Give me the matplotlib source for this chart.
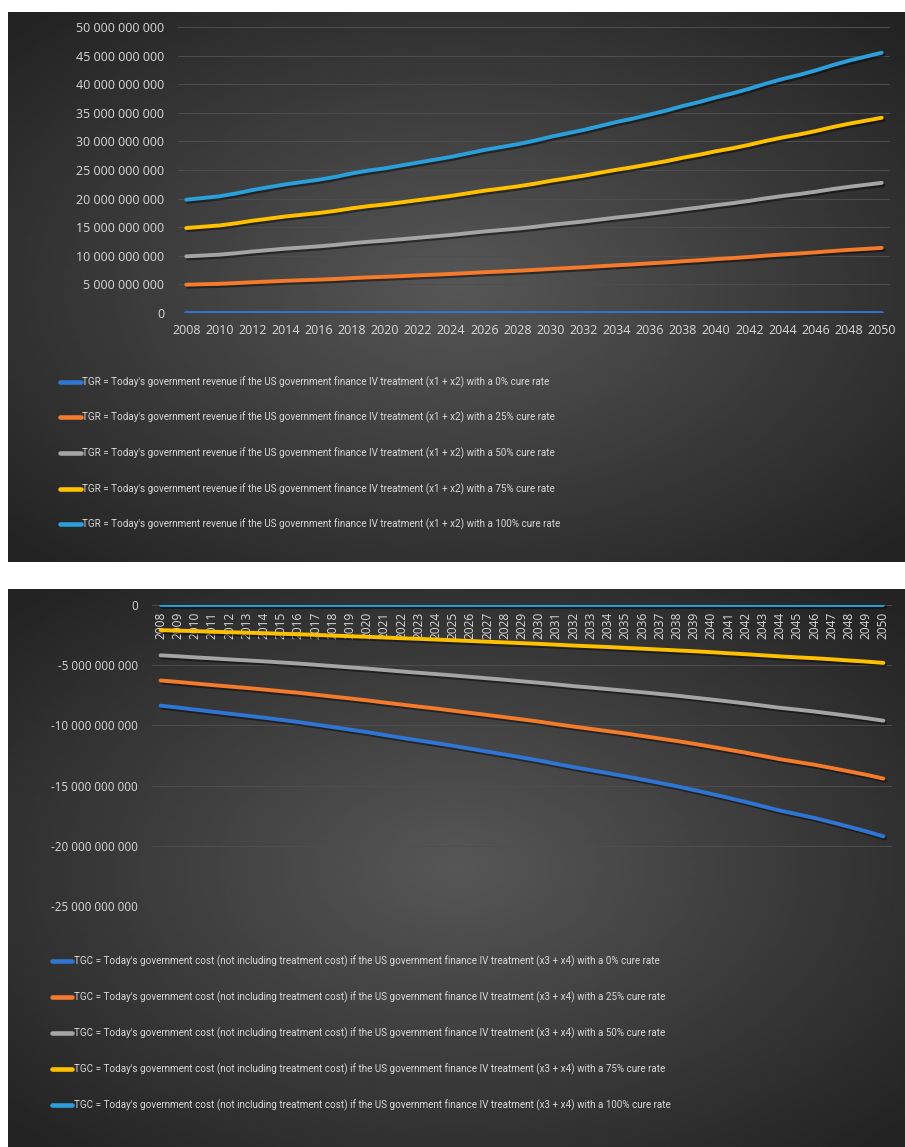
"""Today's government revenue / cost of IV treatment by cure rate, 2008-2050."""

import numpy as np
import matplotlib

matplotlib.use("Agg")
import matplotlib.pyplot as plt
from matplotlib import patheffects as pe
from matplotlib.font_manager import FontProperties
from matplotlib.ticker import FuncFormatter
from matplotlib.transforms import offset_copy

years = list(range(2008, 2051))
cure_rates = ["0%", "25%", "50%", "75%", "100%"]

# revenue, billions USD (x1 + x2)
tgr_0 = [0.0] * 43
tgr_25 = [4.95, 5.03, 5.10, 5.23, 5.38, 5.50, 5.63, 5.73, 5.83, 5.95, 6.10, 6.23, 6.33, 6.45,
          6.58, 6.70, 6.83, 6.98, 7.13, 7.25, 7.38, 7.53, 7.70, 7.85, 8.00, 8.18, 8.35, 8.50,
          8.68, 8.85, 9.05, 9.23, 9.43, 9.60, 9.80, 10.03, 10.23, 10.40, 10.60, 10.83, 11.03,
          11.20, 11.38]
tgr_50 = [9.90, 10.05, 10.20, 10.45, 10.75, 11.00, 11.25, 11.45, 11.65, 11.90, 12.20, 12.45,
          12.65, 12.90, 13.15, 13.40, 13.65, 13.95, 14.25, 14.50, 14.75, 15.05, 15.40, 15.70,
          16.00, 16.35, 16.70, 17.00, 17.35, 17.70, 18.10, 18.45, 18.85, 19.20, 19.60, 20.05,
          20.45, 20.80, 21.20, 21.65, 22.05, 22.40, 22.75]
tgr_75 = [14.85, 15.08, 15.30, 15.68, 16.13, 16.50, 16.88, 17.18, 17.48, 17.85, 18.30, 18.68,
          18.98, 19.35, 19.73, 20.10, 20.48, 20.93, 21.38, 21.75, 22.13, 22.58, 23.10, 23.55,
          24.00, 24.53, 25.05, 25.50, 26.03, 26.55, 27.15, 27.68, 28.28, 28.80, 29.40, 30.08,
          30.68, 31.20, 31.80, 32.48, 33.08, 33.60, 34.13]
tgr_100 = [19.8, 20.1, 20.4, 20.9, 21.5, 22.0, 22.5, 22.9, 23.3, 23.8, 24.4, 24.9, 25.3, 25.8,
           26.3, 26.8, 27.3, 27.9, 28.5, 29.0, 29.5, 30.1, 30.8, 31.4, 32.0, 32.7, 33.4, 34.0,
           34.7, 35.4, 36.2, 36.9, 37.7, 38.4, 39.2, 40.1, 40.9, 41.6, 42.4, 43.3, 44.1, 44.8,
           45.5]

# cost, billions USD (x3 + x4)
tgc_0 = [-8.36, -8.52, -8.69, -8.86, -9.03, -9.19, -9.36, -9.54, -9.72, -9.93, -10.14, -10.35,
         -10.56, -10.80, -11.03, -11.25, -11.47, -11.70, -11.94, -12.18, -12.42, -12.67, -12.92,
         -13.20, -13.47, -13.72, -13.97, -14.23, -14.50, -14.78, -15.06, -15.37, -15.69, -16.02,
         -16.36, -16.72, -17.08, -17.38, -17.69, -18.05, -18.42, -18.80, -19.22]
tgc_25 = [-6.27, -6.39, -6.52, -6.65, -6.77, -6.89, -7.02, -7.16, -7.29, -7.45, -7.61, -7.76,
          -7.92, -8.10, -8.27, -8.44, -8.60, -8.78, -8.96, -9.14, -9.32, -9.50, -9.69, -9.90,
          -10.10, -10.29, -10.48, -10.67, -10.88, -11.09, -11.30, -11.53, -11.77, -12.02, -12.27,
          -12.54, -12.81, -13.04, -13.27, -13.54, -13.82, -14.10, -14.42]
tgc_50 = [-4.18, -4.26, -4.35, -4.43, -4.52, -4.60, -4.68, -4.77, -4.86, -4.97, -5.07, -5.18,
          -5.28, -5.40, -5.52, -5.63, -5.74, -5.85, -5.97, -6.09, -6.21, -6.34, -6.46, -6.60,
          -6.74, -6.86, -6.99, -7.12, -7.25, -7.39, -7.53, -7.69, -7.85, -8.01, -8.18, -8.36,
          -8.54, -8.69, -8.85, -9.03, -9.21, -9.40, -9.61]
tgc_75 = [-2.09, -2.13, -2.17, -2.22, -2.26, -2.30, -2.34, -2.39, -2.43, -2.48, -2.54, -2.59,
          -2.64, -2.70, -2.76, -2.81, -2.87, -2.93, -2.99, -3.05, -3.11, -3.17, -3.23, -3.30,
          -3.37, -3.43, -3.49, -3.56, -3.63, -3.70, -3.77, -3.84, -3.92, -4.01, -4.09, -4.18,
          -4.27, -4.35, -4.42, -4.51, -4.61, -4.70, -4.81]
tgc_100 = [0.0] * 43

colors = ["#2f75d4", "#f47a2c", "#a5a5a5", "#ffc000", "#2a9fdb"]

tgr_label = ("TGR = Today's government revenue if the US government finance IV treatment "
             "(x1 + x2) with a {} cure rate")
tgc_label = ("TGC = Today's government cost (not including treatment cost) if the US government "
             "finance IV treatment (x3 + x4) with a {} cure rate")

W, H = 905, 1147
TEXT = "#d9d9d9"
TICKFONT = "Open Sans"
LEGENDFONT = "Roboto"


def rect(x0, y0, x1, y1):
    return [x0 / W, 1 - y1 / H, (x1 - x0) / W, (y1 - y0) / H]


def gradient_panel(fig, box):
    ax = fig.add_axes(rect(*box), zorder=0)
    gx, gy = np.meshgrid(np.linspace(-1, 1, 200), np.linspace(-1, 1, 200))
    r = np.clip(np.sqrt(gx ** 2 + gy ** 2) / 1.35, 0, 1)
    shade = 0.34 - 0.20 * r
    ax.imshow(shade, cmap="gray", vmin=0, vmax=1, aspect="auto", extent=[0, 1, 0, 1])
    ax.set_axis_off()
    return ax


def fmt_space(v, _pos):
    s = f"{abs(v):,.0f}".replace(",", " ")
    return "-" + s if v < 0 else s


def style_axes(ax):
    ax.set_facecolor("none")
    for side in ax.spines.values():
        side.set_visible(False)
    ax.grid(axis="y", color="#4e4e4e", linewidth=0.7)
    ax.set_axisbelow(True)
    ax.yaxis.set_major_formatter(FuncFormatter(fmt_space))
    ax.set_xlim(years[0] - 0.5, years[-1] + 0.5)


def build_legend(fig, ax, anchor, size, spacing, hlen_px):
    px = size * 100 / 72
    leg = ax.legend(loc="upper left", bbox_to_anchor=(anchor[0] / W, 1 - anchor[1] / H),
                    bbox_transform=fig.transFigure, frameon=False,
                    prop=FontProperties(family=LEGENDFONT, size=size),
                    labelcolor=TEXT, handlelength=hlen_px / px, handletextpad=1.5 / px,
                    labelspacing=spacing, borderpad=0, borderaxespad=0)
    for h in leg.get_lines():
        h.set_linewidth(3.3)
        h.set_solid_capstyle("round")
        h.set_path_effects([])
    return leg


def fit_legend(fig, ax, left, first_y, gap, width, hlen_px):
    """Size the legend so its longest label and row pitch come out at the given pixels."""
    size, spacing = 8.0, 2.5
    anchor = (left, first_y - 6)
    for _ in range(4):
        leg = build_legend(fig, ax, anchor, size, spacing, hlen_px)
        fig.canvas.draw()
        rend = fig.canvas.get_renderer()
        boxes = [t.get_window_extent(rend) for t in leg.get_texts()]
        centers = [H - (b.y0 + b.y1) / 2 for b in boxes]
        pitch = (centers[-1] - centers[0]) / (len(boxes) - 1)
        spacing += (gap - pitch) / (size * 100 / 72)
        anchor = (anchor[0], anchor[1] + first_y - centers[0])
        size *= width / max(b.width for b in boxes)
        leg.remove()
    return build_legend(fig, ax, anchor, size, spacing, hlen_px)


shadow = [pe.SimpleLineShadow(offset=(1.2, -1.5), alpha=0.45, shadow_color="black"), pe.Normal()]

fig = plt.figure(figsize=(W / 100, H / 100), dpi=100)
fig.patch.set_facecolor("white")

# ---- top: revenue ----
gradient_panel(fig, (8, 11.5, 905, 562.5))
ax1 = fig.add_axes(rect(178, 27, 890, 313), zorder=1)
style_axes(ax1)
top_series = [tgr_0, tgr_25, tgr_50, tgr_75, tgr_100]
for vals, c, rate in zip(top_series, colors, cure_rates):
    ax1.plot(years, np.array(vals) * 1e9, color=c, lw=2.8, solid_capstyle="round",
             path_effects=shadow, label=tgr_label.format(rate))
ax1.set_ylim(0, 50e9)
ax1.set_yticks(np.arange(0, 50e9 + 1, 5e9))
ax1.set_xticks(years[::2])
ax1.set_xticklabels([str(y) for y in years[::2]])
ax1.tick_params(length=0, colors=TEXT, labelsize=9)
ax1.tick_params(axis="y", pad=10)
ax1.tick_params(axis="x", pad=8)
for lab in ax1.get_xticklabels() + ax1.get_yticklabels():
    lab.set_fontfamily(TICKFONT)

# ---- bottom: cost ----
gradient_panel(fig, (8, 589, 905, 1147))
ax2 = fig.add_axes(rect(152, 605, 892, 906), zorder=1)
style_axes(ax2)
bottom_series = [tgc_0, tgc_25, tgc_50, tgc_75, tgc_100]
for vals, c, rate in zip(bottom_series, colors, cure_rates):
    ax2.plot(years, np.array(vals) * 1e9, color=c, lw=2.8, solid_capstyle="round",
             path_effects=shadow, label=tgc_label.format(rate))
ax2.set_ylim(-25e9, 0)
ax2.set_yticks(np.arange(-25e9, 1, 5e9))
ax2.set_xticks([])
ax2.tick_params(length=0, colors=TEXT, labelsize=8.4)
ax2.tick_params(axis="y", pad=10)
for lab in ax2.get_yticklabels():
    lab.set_fontfamily(TICKFONT)

below_axis = offset_copy(ax2.transData, fig=fig, x=0, y=-7, units="dots")
for yr in years:
    ax2.text(yr, 0, str(yr), rotation=90, ha="center", va="top", transform=below_axis,
             color=TEXT, fontsize=8.6, fontfamily=TICKFONT, zorder=0.5)

# the original legend face is condensed; a regular face is set a little wider here
fit_legend(fig, ax1, left=60, first_y=382, gap=35.25, width=470, hlen_px=21)
fit_legend(fig, ax2, left=52, first_y=961, gap=36, width=600, hlen_px=20)

fig.savefig("out.png", dpi=100, facecolor=fig.get_facecolor())
